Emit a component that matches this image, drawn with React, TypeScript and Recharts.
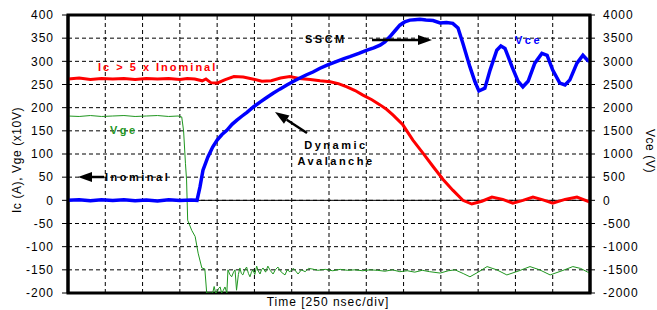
import React from "react";
import { LineChart, Line, XAxis, YAxis, CartesianGrid, ReferenceLine, ReferenceArea } from "recharts";

// time in divisions (250 nsec/div)
const IC_T = [0, 0.3, 0.6, 0.9, 1.2, 1.5, 1.8, 2.1, 2.4, 2.7, 3.0, 3.2, 3.4, 3.6, 3.7, 3.83, 4.0, 4.2, 4.45, 4.7, 4.95, 5.2, 5.45, 5.7, 5.95, 6.2, 6.5, 6.76, 7.03, 7.25, 7.48, 7.7, 7.91, 8.15, 8.37, 8.55, 8.72, 8.98, 9.25, 9.52, 9.79, 10.06, 10.32, 10.59, 10.83, 11.1, 11.37, 11.66, 11.93, 12.2, 12.47, 12.74, 13.0, 13.33, 13.65, 14];
const IC_A = [262, 264, 261, 263, 262, 263, 261, 263, 262, 263, 261, 263, 262, 258, 262, 254, 253, 260, 267, 266, 262, 257, 258, 264, 267, 263, 261, 258, 256, 252, 245, 237, 227, 217, 206, 196, 184, 163, 130, 102, 73, 45, 22, 0, -8, -2, 7, 2, -6, 0, 7, 1, -6, 2, 7, -4];

const VCE_T = [0, 0.3, 0.6, 0.9, 1.2, 1.5, 1.8, 2.1, 2.4, 2.7, 3.0, 3.3, 3.46, 3.54, 3.62, 3.75, 3.88, 4.0, 4.13, 4.26, 4.4, 4.53, 4.67, 4.8, 4.98, 5.15, 5.33, 5.5, 5.68, 5.87, 6.05, 6.22, 6.4, 6.57, 6.76, 6.95, 7.21, 7.4, 7.56, 7.8, 8.02, 8.2, 8.37, 8.5, 8.63, 8.77, 8.9, 9.03, 9.17, 9.3, 9.44, 9.6, 9.79, 9.98, 10.15, 10.32, 10.46, 10.59, 10.78, 10.91, 11.02, 11.18, 11.32, 11.5, 11.61, 11.72, 11.91, 12.07, 12.2, 12.34, 12.52, 12.71, 12.85, 13.0, 13.19, 13.33, 13.46, 13.65, 13.81, 13.94, 14];
const VCE_V = [0, 15, -10, 10, -5, 15, -10, 5, -15, 10, -5, 5, 0, 290, 650, 930, 1150, 1300, 1420, 1510, 1640, 1730, 1820, 1900, 2020, 2120, 2220, 2310, 2400, 2490, 2570, 2640, 2710, 2770, 2850, 2920, 3000, 3060, 3100, 3170, 3240, 3290, 3350, 3420, 3530, 3660, 3780, 3850, 3890, 3900, 3910, 3890, 3880, 3830, 3840, 3820, 3720, 3390, 2880, 2570, 2360, 2420, 2810, 3240, 3330, 3280, 2880, 2570, 2450, 2570, 2960, 3170, 3130, 2810, 2530, 2490, 2600, 2960, 3130, 3020, 3000];

const VGE_T = [0, 0.3, 0.6, 0.9, 1.2, 1.5, 1.8, 2.1, 2.4, 2.7, 2.95, 3.05, 3.1, 3.15, 3.18, 3.21, 3.32, 3.41, 3.49, 3.59, 3.67, 3.72, 3.8, 3.85, 3.88, 3.92, 3.96, 4.0, 4.04, 4.08, 4.12, 4.16, 4.21, 4.26, 4.29, 4.34, 4.39, 4.44, 4.48, 4.52, 4.57, 4.61, 4.65, 4.69, 4.74, 4.79, 4.84, 4.88, 4.92, 4.96, 5.01, 5.06, 5.1, 5.15, 5.19, 5.23, 5.3, 5.36, 5.43, 5.5, 5.56, 5.63, 5.72, 5.82, 5.88, 5.95, 6.05, 6.17, 6.26, 6.36, 6.45, 6.54, 6.7, 6.9, 7.1, 7.3, 7.5, 7.7, 7.9, 8.1, 8.3, 8.5, 8.7, 8.9, 9.1, 9.3, 9.5, 9.7, 9.98, 10.2, 10.38, 10.6, 10.78, 11.0, 11.24, 11.5, 11.77, 12.1, 12.39, 12.65, 12.93, 13.25, 13.54, 13.75, 13.94, 14];
const VGE_V = [182, 181, 183, 181, 182, 183, 181, 182, 183, 181, 182, 180, 150, 80, 44, -43, -65, -78, -114, -146, -148, -200, -200, -200, -200, -186, -200, -198, -190, -187, -200, -195, -187, -200, -150, -160, -165, -155, -150, -194, -160, -146, -158, -161, -150, -144, -158, -165, -155, -150, -160, -142, -152, -159, -150, -146, -155, -142, -152, -159, -150, -144, -155, -161, -150, -154, -147, -159, -150, -154, -147, -148, -151, -149, -152, -149, -151, -150, -152, -150, -151, -153, -150, -154, -152, -155, -151, -154, -157, -152, -150, -158, -165, -155, -143, -150, -161, -152, -143, -150, -161, -152, -143, -147, -155, -156];

const TIME_TICKS = [0, 1, 2, 3, 4, 5, 6, 7, 8, 9, 10, 11, 12, 13, 14];
const LEFT_TICKS = [-200, -150, -100, -50, 0, 50, 100, 150, 200, 250, 300, 350, 400];
const RIGHT_TICKS = [-2000, -1500, -1000, -500, 0, 500, 1000, 1500, 2000, 2500, 3000, 3500, 4000];

const icData = IC_T.map((t, i) => ({ t, ic: IC_A[i] }));
const vceData = VCE_T.map((t, i) => ({ t, vce: VCE_V[i] }));
const vgeData = VGE_T.map((t, i) => ({ t, vge: VGE_V[i] }));

const FONT = "Arial, 'Liberation Sans', sans-serif";
const tickStyle = { fill: "#000", fontSize: 12, fontFamily: FONT, letterSpacing: 1 };
const noteStyle = { fontSize: 11, fontFamily: FONT, fontWeight: 700, letterSpacing: 2.5 } as const;

function Arrow({ x1, y1, x2, y2 }: { x1: number; y1: number; x2: number; y2: number }) {
  const a = Math.atan2(y2 - y1, x2 - x1);
  const len = 14;
  const w = 5;
  const bx = x2 - len * Math.cos(a);
  const by = y2 - len * Math.sin(a);
  const px = -Math.sin(a) * w;
  const py = Math.cos(a) * w;
  return (
    <g>
      <line x1={x1} y1={y1} x2={bx} y2={by} stroke="#000" strokeWidth={2.5} />
      <polygon points={`${x2},${y2} ${bx + px},${by + py} ${bx - px},${by - py}`} fill="#000" />
    </g>
  );
}

export default function App() {
  return (
    <div style={{ position: "absolute", left: 0, top: 0, width: 657, height: 310, background: "#fff" }}>
      <LineChart width={657} height={310} margin={{ top: 15, right: 0, bottom: 17, left: 0 }}>
        <CartesianGrid yAxisId="left" vertical={false} stroke="#000" strokeDasharray="4 3" strokeWidth={1} />
        <XAxis type="number" dataKey="t" domain={[0, 14]} ticks={TIME_TICKS} height={0} tick={false} tickLine={false} axisLine={false} allowDataOverflow />
        <YAxis yAxisId="left" domain={[-200, 400]} ticks={LEFT_TICKS} width={68} tick={tickStyle} tickSize={6} tickMargin={8}
          axisLine={{ stroke: "#000", strokeWidth: 3 }} tickLine={{ stroke: "#000" }} allowDataOverflow />
        <YAxis yAxisId="right" orientation="right" domain={[-2000, 4000]} ticks={RIGHT_TICKS} width={67} tick={tickStyle} tickSize={5} tickMargin={8}
          axisLine={{ stroke: "#000", strokeWidth: 3 }} tickLine={{ stroke: "#000" }} allowDataOverflow />
        {TIME_TICKS.map((t) => (
          <ReferenceLine key={t} yAxisId="left" x={t} stroke="#000" strokeWidth={1} strokeDasharray="4 3" />
        ))}
        <ReferenceLine yAxisId="left" y={0} stroke="#000" strokeWidth={1} />
        <Line yAxisId="left" data={vgeData} dataKey="vge" type="linear" stroke="#1f961f" strokeWidth={1} dot={false} isAnimationActive={false} />
        <Line yAxisId="left" data={icData} dataKey="ic" type="linear" stroke="#ff0000" strokeWidth={3} dot={false} isAnimationActive={false} />
        <Line yAxisId="right" data={vceData} dataKey="vce" type="linear" stroke="#0000ff" strokeWidth={3.5} dot={false} isAnimationActive={false} />
        <ReferenceArea yAxisId="left" x1={0} x2={14} y1={-200} y2={400} fill="none" fillOpacity={0} stroke="#000" strokeWidth={3} />
      </LineChart>
      <svg width={657} height={310} style={{ position: "absolute", left: 0, top: 0, pointerEvents: "none" }}>
        <text x={17} y={160} transform="rotate(-90 17 160)" textAnchor="middle" dominantBaseline="central" fontSize={12} fontFamily={FONT} letterSpacing={0.6} fill="#000">Ic (A), Vge (x10V)</text>
        <text x={650} y={151} transform="rotate(90 650 151)" textAnchor="middle" dominantBaseline="central" fontSize={12} fontFamily={FONT} letterSpacing={0.6} fill="#000">Vce (V)</text>
        <text x={328} y={306} textAnchor="middle" fontSize={12} fontFamily={FONT} letterSpacing={1} fill="#000">Time [250 nsec/div]</text>

        <text x={98} y={71} {...noteStyle} letterSpacing={2} fill="#ff0000">Ic &gt; 5 x Inominal</text>
        <text x={110} y={134} {...noteStyle} fill="#1f961f">Vge</text>
        <text x={105} y={181} {...noteStyle} fill="#000">Inominal</text>
        <Arrow x1={104} y1={177} x2={78} y2={177} />
        <text x={305} y={43} {...noteStyle} fill="#000">SSCM</text>
        <Arrow x1={372} y1={40} x2={432} y2={40} />
        <text x={515} y={44} {...noteStyle} fill="#0000ff">Vce</text>
        <text x={336} y={149} {...noteStyle} textAnchor="middle" fill="#000">Dynamic</text>
        <text x={336} y={165} {...noteStyle} textAnchor="middle" fill="#000">Avalanche</text>
        <Arrow x1={307} y1={133} x2={275} y2={112} />
      </svg>
    </div>
  );
}
